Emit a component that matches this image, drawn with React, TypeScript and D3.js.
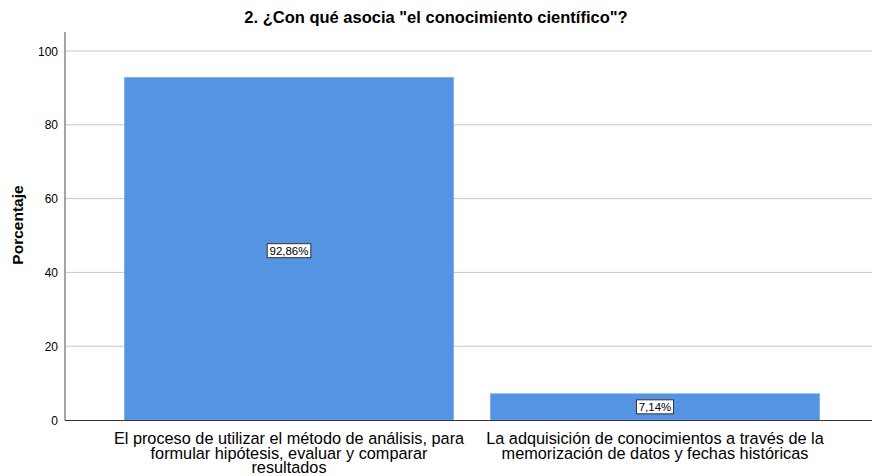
import React from "react";
import * as d3 from "d3";

const title = '2. ¿Con qué asocia "el conocimiento científico"?';
const yLabel = "Porcentaje";
const categories = [
  ["El proceso de utilizar el método de análisis, para", "formular hipótesis, evaluar y comparar", "resultados"],
  ["La adquisición de conocimientos a través de la", "memorización de datos y fechas históricas"],
];
const values = [92.86, 7.14];
const valueLabels = ["92,86%", "7,14%"];
const yTicks = [0, 20, 40, 60, 80, 100];

const W = 872;
const H = 476;
const font = "Arial, 'Liberation Sans', sans-serif";

export default function App() {
  const y = d3.scaleLinear().domain([0, 100]).range([420, 51]);
  const x = d3.scaleBand<number>().domain([0, 1]).range([106, 838]).paddingInner(0.1).paddingOuter(0.05);
  const axisX = 65;
  const plotTop = 32;
  return (
    <svg width={W} height={H} style={{ position: "absolute", left: 0, top: 0, background: "#fff" }} fontFamily={font}>
      <rect x={0} y={0} width={W} height={H} fill="#fff" />
      <text x={436} y={23} textAnchor="middle" fontSize={16.5} fontWeight="bold" fill="#000">{title}</text>
      {yTicks.map((t) => (
        <g key={t}>
          {t > 0 && <line x1={axisX} x2={W} y1={y(t)} y2={y(t)} stroke="#c8c8c8" strokeWidth={1} />}
          <text x={58} y={y(t) + 4.5} textAnchor="end" fontSize={12} fill="#000">{t}</text>
        </g>
      ))}
      {values.map((v, i) => {
        const bx = x(i)!;
        const bw = x.bandwidth();
        const top = y(v);
        const mid = (top + y(0)) / 2 + (i === 0 ? 2 : 0);
        const lw = valueLabels[i].length * 6.6 + 4;
        return (
          <g key={i}>
            <rect x={bx} y={top} width={bw} height={y(0) - top} fill="#5594e3" stroke="#7aaaf0" strokeWidth={0.5} />
            <rect x={bx + bw / 2 - lw / 2} y={mid - 7} width={lw} height={14} fill="#fff" stroke="#333" strokeWidth={1} />
            <text x={bx + bw / 2} y={mid + 4} textAnchor="middle" fontSize={11.5} fill="#000">{valueLabels[i]}</text>
            {categories[i].map((line, j) => (
              <text key={j} x={bx + bw / 2} y={444 + j * 14.5} textAnchor="middle" fontSize={16.3} fill="#000">{line}</text>
            ))}
          </g>
        );
      })}
      <line x1={axisX} x2={axisX} y1={plotTop} y2={420.5} stroke="#888" strokeWidth={1.5} />
      <line x1={axisX} x2={W} y1={420.5} y2={420.5} stroke="#333" strokeWidth={1} />
      <text transform={`translate(23,${225}) rotate(-90)`} textAnchor="middle" fontSize={15.5} fontWeight="bold" fill="#000">{yLabel}</text>
    </svg>
  );
}
